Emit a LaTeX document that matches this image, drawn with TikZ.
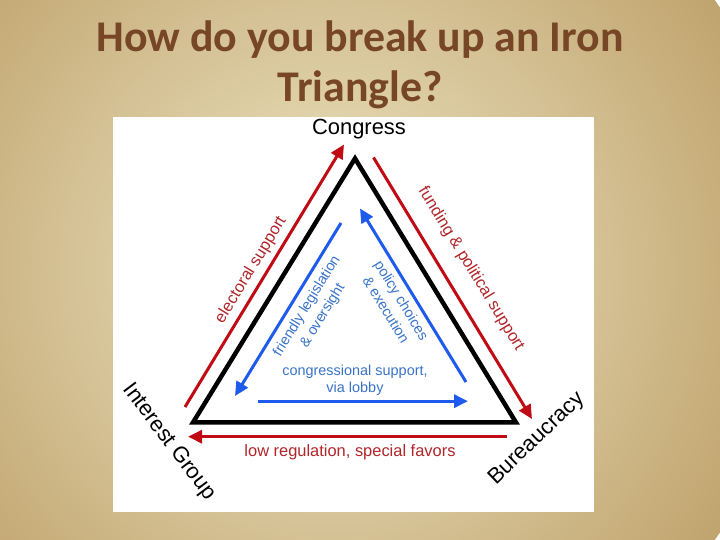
\documentclass[tikz,border=0pt]{standalone}
\usepackage{fontspec}
\setmainfont{Liberation Sans}
\newfontfamily\titlefont{Carlito}
\usetikzlibrary{arrows.meta}
\definecolor{bginner}{HTML}{EFE7C6}
\definecolor{bgouter}{HTML}{C0A46E}
\definecolor{titlebrown}{HTML}{774626}
\definecolor{arrred}{HTML}{C00A14}
\definecolor{txtred}{HTML}{B0262A}
\definecolor{arrblue}{HTML}{1E5AEB}
\definecolor{txtblue}{HTML}{3A74C8}
\tikzset{
  redarrow/.style={draw=arrred, line width=3bp, -{Triangle[length=14bp,width=13bp]}},
  bluearrow/.style={draw=arrblue, line width=3bp, -{Triangle[length=14bp,width=13bp]}},
  cornerlabel/.style={font=\fontsize{22}{24}\selectfont, text=black, inner sep=0pt},
  redlabel/.style={font=\fontsize{16.5}{19}\selectfont, text=txtred, inner sep=0pt},
  bluelabel/.style={font=\fontsize{14.5}{17}\selectfont, text=txtblue, inner sep=0pt, align=center},
  bluerot/.style={bluelabel, font=\fontsize{14.5}{18.5}\selectfont},
  titletext/.style={font=\titlefont\bfseries\fontsize{44}{50}\selectfont, inner sep=0pt, align=center}
}
\begin{document}
\begin{tikzpicture}[x=1bp,y=1bp]
\useasboundingbox (0,0) rectangle (720,540);
\begin{scope}
  \clip (0,0) rectangle (720,540);
  \shade[inner color=bginner, outer color=bgouter] (330,270) circle (470);
\end{scope}
% title
\node[titletext, text=titlebrown] (title) at (360,475) {How do you break up an Iron\\Triangle?};
% white panel
\fill[white] (113,28) rectangle (594,423);
% triangle
\coordinate (A) at (355,381.5);
\coordinate (L) at (193,117.5);
\coordinate (R) at (516,117.5);
\draw[black, line width=4.5bp, miter limit=10] (A) -- (R) -- (L) -- cycle;
% red arrows
\coordinate (r1s) at (185,133);
\coordinate (r1e) at (344,395.5);
\coordinate (r2s) at (373.5,382.5);
\coordinate (r2e) at (532,121);
\coordinate (r3s) at (507,103.3);
\coordinate (r3e) at (188,103.3);
\draw[redarrow] (r1s) -- (r1e);
\draw[redarrow] (r2s) -- (r2e);
\draw[redarrow] (r3s) -- (r3e);
% blue arrows
\coordinate (b1s) at (341,317);
\coordinate (b1e) at (235,144);
\coordinate (b2s) at (466,158);
\coordinate (b2e) at (360,331.5);
\coordinate (b3s) at (258,138.8);
\coordinate (b3e) at (468,138.8);
\draw[bluearrow] (b1s) -- (b1e);
\draw[bluearrow] (b2s) -- (b2e);
\draw[bluearrow] (b3s) -- (b3e);
% corner labels
\node[cornerlabel] (congress) at (359,411) {Congress};
\node[cornerlabel, rotate=-53] (interest) at (169,98) {Interest Group};
\node[cornerlabel, rotate=44] (bureau) at (537,101) {Bureaucracy};
% red labels
\node[redlabel, rotate=58.5] (electoral) at (251,270) {electoral support};
\node[redlabel, rotate=-58.5] (funding) at (471,271) {funding \& political support};
\node[redlabel] (lowreg) at (350,88) {low regulation, special favors};
% blue labels
\node[bluerot, rotate=58.5] (friendly) at (315,229) {friendly legislation\\\& oversight};
\node[bluerot, rotate=-58.5] (policy) at (394,235) {policy choices\\\& execution};
\node[bluelabel] (lobby) at (355,160) {congressional support,\\via lobby};
\end{tikzpicture}
\end{document}
